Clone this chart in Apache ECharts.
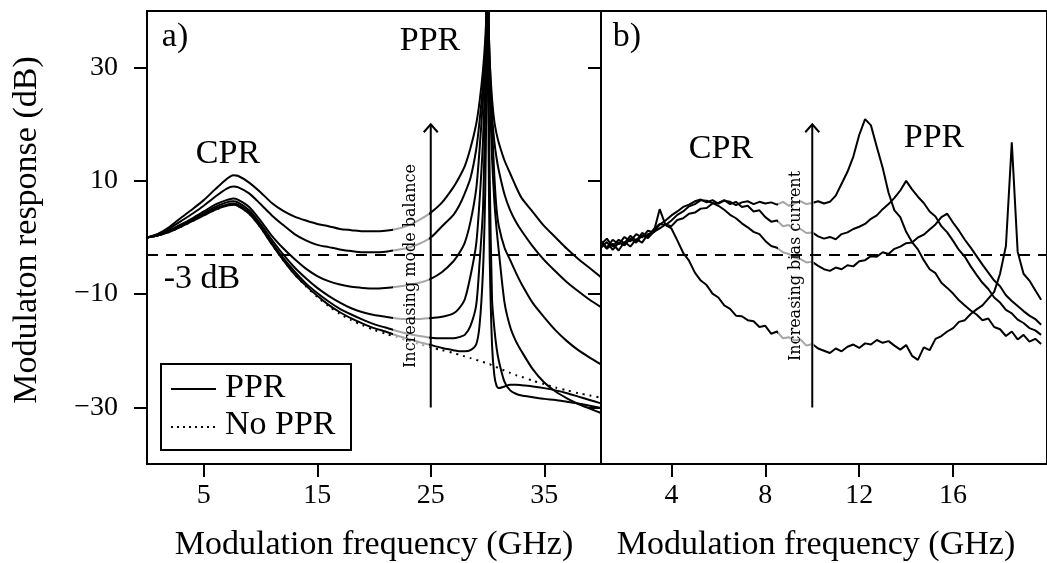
<!DOCTYPE html>
<html>
<head>
<meta charset="utf-8">
<script src="https://cdn.jsdelivr.net/npm/echarts@6/dist/echarts.min.js"></script>
<style>html,body{margin:0;padding:0;background:#fff}#c{width:1047px;height:563px}</style>
</head>
<body>
<div id="c"></div>
<script>
// ---------- Panel a) : simulated modulation response ----------
const leftFreq = [0,1,2,3,4,5,6,7,7.6,8,9,10,11,12,13,14,15,16,17,18,19,20,21,22,23,24,25,26,27,27.5,28,28.5,29,29.3,29.6,29.8,29.9,30,30.1,30.2,30.4,30.6,30.8,31,31.5,32,32.5,33,34,35,36,37,38,39,40];
const ppr1 = [0,0.7,1.9,3.5,5.0,6.6,8.5,10.3,11.0,10.9,9.7,8.0,6.1,4.7,3.7,3.0,2.4,2.0,1.5,1.3,1.1,1.1,1.2,1.5,2.1,3.1,4.4,6.2,8.9,10.6,12.6,15.8,20,24,29.5,35,40,60,38,31,24.5,20.5,18.3,16.7,13.6,11.3,9.0,7.0,4.5,2.0,0,-2,-3.8,-5.4,-7.0];
const ppr2 = [0,0.6,1.6,2.9,4.2,5.6,7.2,8.6,9.0,8.9,7.8,5.9,3.9,2.2,0.6,-0.5,-1.3,-1.7,-2.1,-2.4,-2.6,-2.6,-2.5,-2.2,-1.8,-1.1,0.0,2.0,4.0,5.6,7.8,10.5,15.5,20.5,27,33,38,60,36,29,21.5,17,14,11.8,7.6,4.8,2.8,1.2,-1.6,-4.0,-6.0,-7.9,-9.5,-11.0,-12.3];
const ppr3 = [0,0.5,1.3,2.3,3.4,4.6,5.8,6.6,6.9,6.7,5.4,3.0,0.3,-1.9,-3.8,-5.5,-6.8,-7.7,-8.3,-8.7,-8.9,-9.0,-8.9,-8.7,-8.4,-8.0,-7.3,-6.1,-4.2,-2.8,-0.9,2.8,8.5,15.5,24.5,32,38,60,38,31,20,11,5,2.0,-1.8,-4.0,-6.2,-8.2,-11.6,-14.1,-16.4,-18.3,-19.9,-21.2,-22.4];
const ppr4 = [0,0.4,1.2,2.1,3.2,4.3,5.4,6.2,6.4,6.2,4.8,2.4,-0.4,-3.0,-5.3,-7.2,-8.9,-10.3,-11.5,-12.5,-13.2,-13.7,-14.0,-14.3,-14.4,-14.4,-14.2,-14.0,-13.4,-12.5,-10.9,-6.8,-1.2,6.5,17,29,36,60,36,26,14,6.5,1.5,-2.5,-11.5,-15.8,-18.3,-20.1,-23.3,-25.6,-27.2,-28.4,-29.4,-30.2,-31.0];
const ppr5 = [0,0.4,1.1,2.0,3.0,4.1,5.1,5.8,6.0,5.8,4.4,2.0,-0.9,-3.6,-6.0,-8.1,-9.8,-11.3,-12.6,-13.6,-14.5,-15.3,-15.9,-16.5,-17.0,-17.4,-17.7,-17.8,-17.8,-17.6,-17.2,-15.6,-12,-4.5,5,23,32,60,25,10,-11,-16,-19.5,-21.8,-25.5,-27.0,-27.6,-27.9,-28.2,-28.5,-28.7,-29.0,-29.3,-29.7,-30.1];
const ppr6 = [0,0.4,1.0,1.9,2.9,3.9,4.9,5.6,5.8,5.6,4.2,1.8,-1.2,-4.0,-6.5,-8.5,-10.3,-11.9,-13.2,-14.3,-15.2,-16.0,-16.6,-17.3,-17.9,-18.5,-19.0,-19.5,-19.9,-20.1,-20.1,-19.9,-18.9,-15.5,-6,8,25,60,15,-4,-19,-24.3,-26.2,-26.6,-26.3,-26.0,-26.0,-26.1,-26.3,-26.6,-27.0,-27.5,-28.1,-28.7,-29.3];
const noPpr = [0,0.4,1.0,1.9,2.9,3.9,4.9,5.6,5.8,5.6,4.2,1.8,-1.2,-4.0,-6.5,-8.6,-10.5,-12.1,-13.5,-14.6,-15.5,-16.3,-17.0,-17.6,-18.2,-18.8,-19.4,-19.9,-20.4,-20.7,-21.0,-21.3,-21.6,-21.8,-22.0,-22.1,-22.2,-22.3,-22.4,-22.4,-22.6,-22.7,-22.9,-23.1,-23.5,-23.9,-24.3,-24.6,-25.3,-25.9,-26.5,-27.0,-27.5,-27.9,-28.3];

// ---------- Panel b) : measured modulation response ----------
const rightFreq = [1,1.25,1.5,1.75,2,2.25,2.5,2.75,3,3.25,3.5,3.75,4,4.25,4.5,4.75,5,5.25,5.5,5.75,6,6.25,6.5,6.75,7,7.25,7.5,7.75,8,8.25,8.5,8.75,9,9.25,9.5,9.75,10,10.25,10.5,10.75,11,11.25,11.5,11.75,12,12.25,12.5,12.75,13,13.25,13.5,13.75,14,14.25,14.5,14.75,15,15.25,15.5,15.75,16,16.25,16.5,16.75,17,17.25,17.5,17.75,18,18.25,18.5,18.75,19,19.25,19.5,19.75];
const bias1 = [-1.2,-0.2,-1.6,-0.4,-1.0,0.3,-0.6,0.8,0.2,1.5,2.4,2.2,1.6,-0.5,-2.7,-4.1,-6.2,-7.6,-8.4,-9.9,-10.6,-12.0,-12.6,-13.8,-13.9,-14.6,-14.8,-15.8,-15.6,-17.0,-16.6,-17.8,-17.6,-18.2,-18.0,-19.1,-18.8,-19.6,-20.0,-20.4,-19.6,-20.1,-19.3,-18.9,-19.5,-18.7,-18.9,-18.1,-18.6,-18.3,-19.1,-19.8,-19.0,-20.9,-21.6,-19.4,-19.9,-17.9,-17.4,-16.6,-16.0,-14.9,-14.6,-13.5,-12.7,-12.0,-10.8,-9.6,-6.4,-1.5,16.8,-2.5,-6.4,-7.6,-9.3,-11.0];
const bias2 = [-0.6,-1.8,-0.4,-1.2,0.1,-0.7,0.6,0.0,1.2,0.9,2.3,3.0,3.9,4.6,5.4,5.8,6.4,6.7,6.2,6.6,6.0,6.5,6.3,5.7,6.2,6.4,5.9,6.3,6.0,6.2,5.8,6.3,5.6,6.0,6.4,5.9,6.1,6.4,6.0,6.3,7.4,9.5,11.6,14.3,18.1,20.9,19.8,16.0,12.3,7.9,4.8,3.6,1.0,-0.8,-2.1,-4.0,-5.6,-6.3,-8.0,-8.9,-9.9,-11.1,-12.0,-12.9,-13.6,-14.6,-14.3,-15.8,-16.2,-17.4,-16.6,-18.0,-17.2,-18.4,-17.9,-18.8];
const bias3 = [-1.8,-0.8,-2.2,-0.9,-1.4,-0.2,-0.9,0.4,-0.1,1.0,1.6,2.3,2.0,3.1,3.4,4.2,4.4,5.1,5.2,6.0,6.1,6.6,5.9,6.3,5.4,5.6,4.6,4.8,3.6,2.8,3.0,2.0,2.2,1.3,1.5,0.8,0.9,0.2,-0.2,0.1,-0.3,0.6,0.9,1.5,1.9,2.4,3.3,3.9,5.0,5.9,7.0,8.3,10.0,8.5,7.2,6.1,4.6,3.7,2.0,0.9,-0.6,-2.2,-3.4,-5.1,-6.6,-8.0,-9.1,-10.6,-11.5,-12.8,-13.4,-14.5,-15.1,-16.0,-16.4,-17.2];
const bias4 = [-0.9,-2.0,-1.1,-2.3,-0.8,-1.6,-0.3,-0.9,0.6,1.0,5.0,2.2,3.0,4.0,4.6,5.5,5.9,6.6,6.5,6.1,5.6,4.9,4.0,3.4,2.5,1.8,1.0,0.6,-0.6,-1.5,-1.8,-2.6,-2.9,-3.6,-3.8,-4.4,-4.3,-5.0,-5.6,-5.9,-5.3,-5.6,-4.9,-5.1,-4.2,-4.0,-3.3,-3.4,-2.6,-2.9,-2.0,-1.6,-1.0,-0.9,0.0,0.5,1.4,2.3,3.6,4.2,2.6,1.2,-0.4,-1.8,-3.3,-4.8,-6.2,-7.6,-8.6,-10.2,-11.2,-12.1,-13.0,-13.8,-14.4,-15.4];

// ---------- ticks / annotations ----------
const leftXTicks = [5,15,25,35];
const rightXTicks = [4,8,12,16];
const yTicks = [-30,-10,10,30];
const threshold = -3;
const arrowLeft = [25,-30,20];
const arrowRight = [10,-30,20];

const SERIF = 'Liberation Serif';
const pair = (xs, ys) => xs.map((x, i) => [x, ys[i]]);

function xAxisCfg(grid, min, max, ticks) {
  return {
    gridIndex: grid, type: 'value', min: min, max: max, position: 'bottom',
    axisLine: {show: false, onZero: false}, splitLine: {show: false},
    axisTick: {show: true, length: 13, lineStyle: {color: '#000', width: 2}, customValues: ticks},
    axisLabel: {show: true, customValues: ticks, fontFamily: SERIF, fontSize: 28, color: '#000', margin: 18}
  };
}
function yAxisCfg(grid, showLabel) {
  return {
    gridIndex: grid, type: 'value', min: -40, max: 40, position: 'left',
    axisLine: {show: false, onZero: false}, splitLine: {show: false},
    axisTick: {show: true, length: 13, lineStyle: {color: '#000', width: 2}, customValues: yTicks},
    axisLabel: {show: showLabel, customValues: yTicks, fontFamily: SERIF, fontSize: 28, color: '#000', margin: 29,
      formatter: v => String(v).replace('-', '\u2212')}
  };
}
function lineSeries(xi, data, extra) {
  return Object.assign({
    type: 'line', xAxisIndex: xi, yAxisIndex: xi, data: data, showSymbol: false, symbol: 'none',
    lineStyle: {color: '#000', width: 2}, z: 2, silent: true, clip: true
  }, extra || {});
}
function arrowSeries(xi, a) {
  return {
    type: 'custom', xAxisIndex: xi, yAxisIndex: xi, data: [a], z: 10, silent: true,
    encode: {x: 0, y: [1, 2]},
    renderItem: function (params, api) {
      const p0 = api.coord([api.value(0), api.value(1)]);
      const p1 = api.coord([api.value(0), api.value(2)]);
      return {type: 'group', children: [
        {type: 'line', shape: {x1: p0[0], y1: p0[1], x2: p1[0], y2: p1[1]}, style: {stroke: '#000', lineWidth: 2}},
        {type: 'polyline', shape: {points: [[p1[0] - 7, p1[1] + 8], [p1[0], p1[1]], [p1[0] + 7, p1[1] + 8]]},
          style: {stroke: '#000', lineWidth: 2, fill: null}}
      ]};
    }
  };
}
function thresholdSeries(xi) {
  return {
    type: 'line', xAxisIndex: xi, yAxisIndex: xi, data: [], z: 10, silent: true,
    markLine: {silent: true, symbol: ['none', 'none'], label: {show: false}, animation: false,
      lineStyle: {type: [11, 8], color: '#000', width: 2}, data: [{yAxis: threshold}]}
  };
}
function txt(text, x, y, size) {
  return {type: 'text', x: x, y: y, z: 20,
    style: {text: text, font: size + 'px "' + SERIF + '"', fill: '#000', align: 'center', verticalAlign: 'middle'}};
}

const chart = echarts.init(document.getElementById('c'), null, {renderer: 'canvas'});
chart.setOption({
  animation: false,
  backgroundColor: '#fff',
  grid: [
    {left: 147, top: 11, width: 454, height: 453, show: true, borderColor: '#000', borderWidth: 2, backgroundColor: 'transparent'},
    {left: 601, top: 11, width: 453, height: 453, show: true, borderColor: '#000', borderWidth: 2, backgroundColor: 'transparent'}
  ],
  xAxis: [xAxisCfg(0, 0, 40, leftXTicks), xAxisCfg(1, 1, 20, rightXTicks)],
  yAxis: [yAxisCfg(0, true), yAxisCfg(1, false)],
  series: [
    lineSeries(0, pair(leftFreq, ppr1), {smooth: 0.25}),
    lineSeries(0, pair(leftFreq, ppr2), {smooth: 0.25}),
    lineSeries(0, pair(leftFreq, ppr3), {smooth: 0.25}),
    lineSeries(0, pair(leftFreq, ppr4), {smooth: 0.25}),
    lineSeries(0, pair(leftFreq, ppr5), {smooth: 0.25}),
    lineSeries(0, pair(leftFreq, ppr6), {smooth: 0.25}),
    lineSeries(0, pair(leftFreq, noPpr), {smooth: 0.25, lineStyle: {color: '#000', width: 2, type: [2, 5]}}),
    lineSeries(1, pair(rightFreq, bias1)),
    lineSeries(1, pair(rightFreq, bias2)),
    lineSeries(1, pair(rightFreq, bias3)),
    lineSeries(1, pair(rightFreq, bias4)),
    thresholdSeries(0),
    thresholdSeries(1),
    arrowSeries(0, arrowLeft),
    arrowSeries(1, arrowRight)
  ],
  graphic: [
    {type: 'text', x: 411, y: 266, rotation: Math.PI / 2, z: 5,
      style: {text: 'Increasing mode balance', font: '16px "DejaVu Serif"', fill: '#000', align: 'center', verticalAlign: 'middle',
        backgroundColor: 'rgba(255,255,255,0.65)', padding: [10, 3, 10, 3]}},
    {type: 'text', x: 796, y: 266, rotation: Math.PI / 2, z: 5,
      style: {text: 'Increasing bias current', font: '16px "DejaVu Serif"', fill: '#000', align: 'center', verticalAlign: 'middle',
        backgroundColor: 'rgba(255,255,255,0.65)', padding: [10, 3, 10, 3]}},
    txt('a)', 175, 37, 34),
    txt('b)', 627, 37, 34),
    txt('PPR', 430, 41, 34),
    txt('CPR', 228, 154, 34),
    txt('-3 dB', 202, 279, 34),
    txt('CPR', 721, 149, 34),
    txt('PPR', 934, 138, 34),
    txt('Modulation frequency (GHz)', 374, 545, 34),
    txt('Modulation frequency (GHz)', 816, 545, 34),
    {type: 'text', x: 27, y: 230, rotation: Math.PI / 2, z: 20,
      style: {text: 'Modulaton response (dB)', font: '34px "' + SERIF + '"', fill: '#000', align: 'center', verticalAlign: 'middle'}},
    {type: 'rect', z: 20, shape: {x: 161, y: 364, width: 190, height: 86}, style: {fill: '#fff', stroke: '#000', lineWidth: 2}},
    {type: 'line', z: 21, shape: {x1: 171, y1: 389, x2: 216, y2: 389}, style: {stroke: '#000', lineWidth: 2}},
    {type: 'line', z: 21, shape: {x1: 171, y1: 427, x2: 216, y2: 427}, style: {stroke: '#000', lineWidth: 2, lineDash: [2, 4]}},
    {type: 'text', x: 225, y: 388, z: 21, style: {text: 'PPR', font: '34px "' + SERIF + '"', fill: '#000', align: 'left', verticalAlign: 'middle'}},
    {type: 'text', x: 225, y: 425, z: 21, style: {text: 'No PPR', font: '34px "' + SERIF + '"', fill: '#000', align: 'left', verticalAlign: 'middle'}}
  ]
});
</script>
</body>
</html>
